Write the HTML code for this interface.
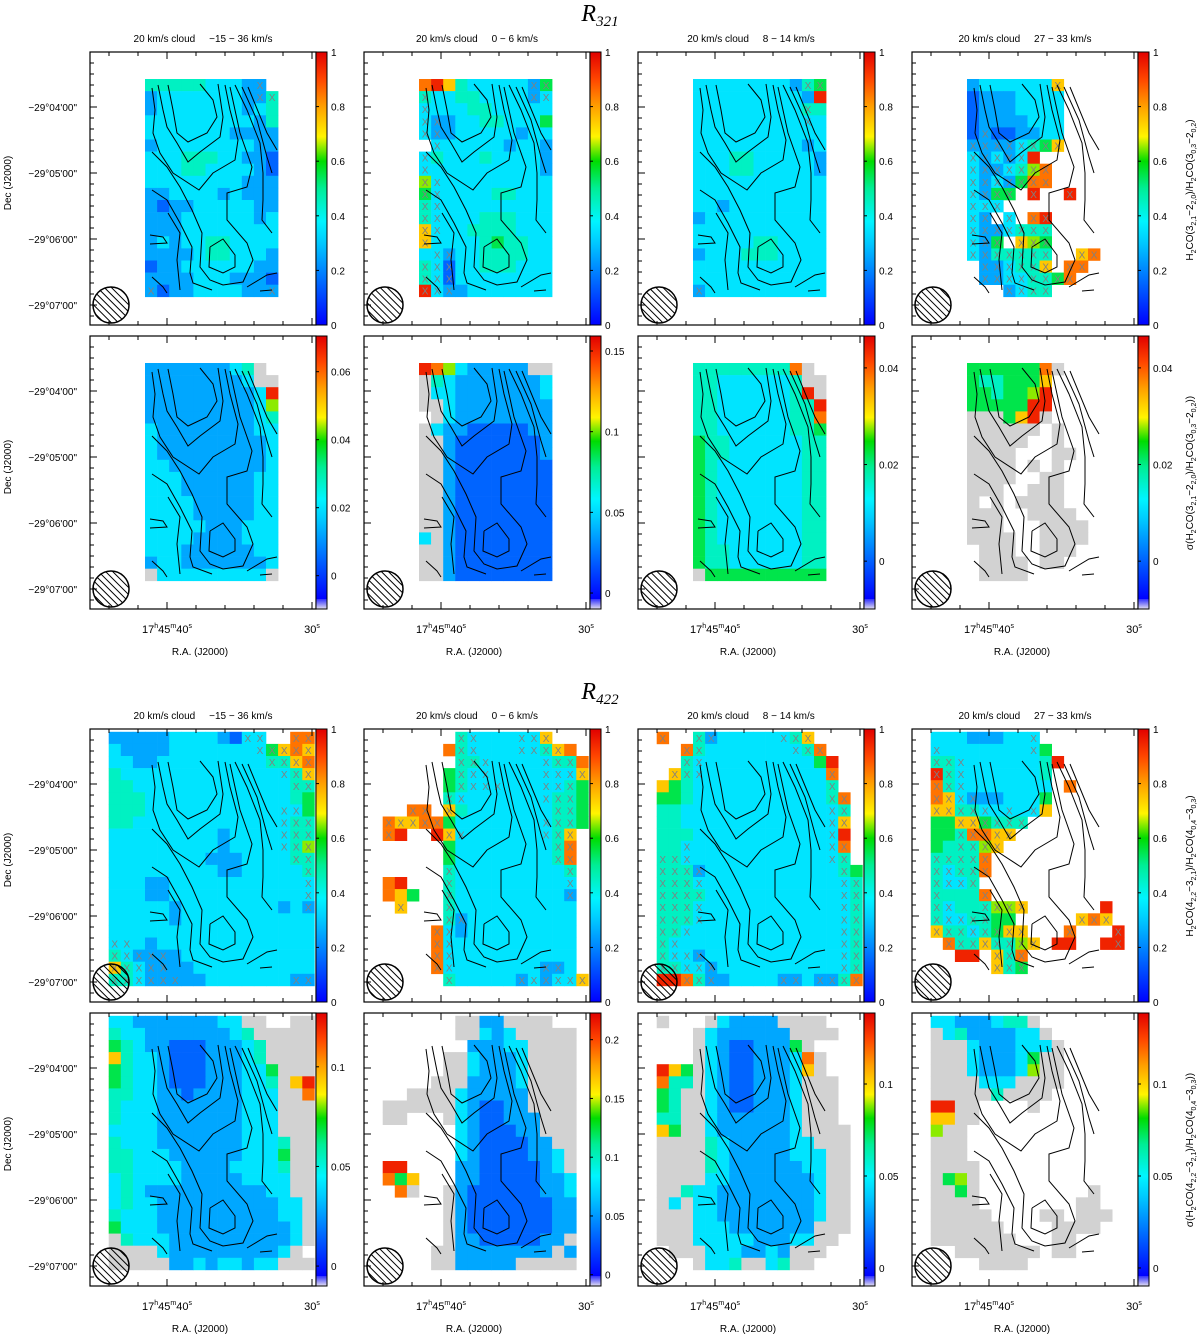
<!DOCTYPE html>
<html><head><meta charset="utf-8"><title>R321 / R422 maps</title>
<style>html,body{margin:0;padding:0;background:#fff;}svg{display:block;font-family:"Liberation Sans",sans-serif;}</style>
</head><body>
<svg id="fig" width="1200" height="1334" viewBox="0 0 1200 1334" xmlns="http://www.w3.org/2000/svg">
<defs>
<pattern id="hatch" patternUnits="userSpaceOnUse" width="5" height="5" patternTransform="rotate(-45)"><line x1="0" y1="0" x2="0" y2="5" stroke="#000" stroke-width="2"/></pattern>
</defs>
<text x="600" y="21" text-anchor="middle" font-family="Liberation Serif,serif" font-style="italic" font-size="24">R<tspan font-size="15" dy="5">321</tspan></text>
<text x="600" y="699" text-anchor="middle" font-family="Liberation Serif,serif" font-style="italic" font-size="24">R<tspan font-size="15" dy="5">422</tspan></text>
<g id="panels"></g>
<g font-size="10">
<text transform="translate(1193,190) rotate(-90)" text-anchor="middle">H<tspan font-size="7" dy="3">2</tspan><tspan dy="-3">CO(3</tspan><tspan font-size="7" dy="3">2,1</tspan><tspan dy="-3">−2</tspan><tspan font-size="7" dy="3">2,0</tspan><tspan dy="-3">)/H</tspan><tspan font-size="7" dy="3">2</tspan><tspan dy="-3">CO(3</tspan><tspan font-size="7" dy="3">0,3</tspan><tspan dy="-3">−2</tspan><tspan font-size="7" dy="3">0,2</tspan><tspan dy="-3">)</tspan></text>
<text transform="translate(1193,473) rotate(-90)" text-anchor="middle">σ(H<tspan font-size="7" dy="3">2</tspan><tspan dy="-3">CO(3</tspan><tspan font-size="7" dy="3">2,1</tspan><tspan dy="-3">−2</tspan><tspan font-size="7" dy="3">2,0</tspan><tspan dy="-3">)/H</tspan><tspan font-size="7" dy="3">2</tspan><tspan dy="-3">CO(3</tspan><tspan font-size="7" dy="3">0,3</tspan><tspan dy="-3">−2</tspan><tspan font-size="7" dy="3">0,2</tspan><tspan dy="-3">))</tspan></text>
<text transform="translate(1193,866) rotate(-90)" text-anchor="middle">H<tspan font-size="7" dy="3">2</tspan><tspan dy="-3">CO(4</tspan><tspan font-size="7" dy="3">2,2</tspan><tspan dy="-3">−3</tspan><tspan font-size="7" dy="3">2,1</tspan><tspan dy="-3">)/H</tspan><tspan font-size="7" dy="3">2</tspan><tspan dy="-3">CO(4</tspan><tspan font-size="7" dy="3">0,4</tspan><tspan dy="-3">−3</tspan><tspan font-size="7" dy="3">0,3</tspan><tspan dy="-3">)</tspan></text>
<text transform="translate(1193,1150) rotate(-90)" text-anchor="middle">σ(H<tspan font-size="7" dy="3">2</tspan><tspan dy="-3">CO(4</tspan><tspan font-size="7" dy="3">2,2</tspan><tspan dy="-3">−3</tspan><tspan font-size="7" dy="3">2,1</tspan><tspan dy="-3">)/H</tspan><tspan font-size="7" dy="3">2</tspan><tspan dy="-3">CO(4</tspan><tspan font-size="7" dy="3">0,4</tspan><tspan dy="-3">−3</tspan><tspan font-size="7" dy="3">0,3</tspan><tspan dy="-3">))</tspan></text>
</g>
</svg>
<script>
const NS="http://www.w3.org/2000/svg";
// ---- data ----
const panelX=[90,364,638,912];
const panelY=[52,336,729,1013];
const velocities=["−15 − 36 km/s","0 − 6 km/s","8 − 14 km/s","27 − 33 km/s"];
const decTickLabels=["−29°04'00\"","−29°05'00\"","−29°06'00\"","−29°07'00\""];
const decTickMinutes=[4,5,6,7];
const raTickSeconds=[40,30];
const cbRangeRatio=[0,1];
const cbTicksRatio=[0,0.2,0.4,0.6,0.8,1];
const cbRangeSig321=[[-0.0098,0.0705],[-0.0099,0.1593],[-0.0099,0.0466],[-0.0099,0.0466]];
const cbTicksSig321=[[0,0.02,0.04,0.06],[0,0.05,0.1,0.15],[0,0.02,0.04],[0,0.02,0.04]];
const cbRangeSig422=[[-0.01,0.127],[-0.0096,0.2227],[-0.0098,0.1386],[-0.0098,0.1386]];
const cbTicksSig422=[[0,0.05,0.1],[0,0.05,0.1,0.15,0.2],[0,0.05,0.1],[0,0.05,0.1]];
// cell codes: digit = colour level (0 blue .. 9 red); a-j = same level with X flag; # = masked (grey); . = blank
const r321=[
["444443332c.","233333332ce","23333333234","33333333324","33333332222","23333333322","33344433221","33344333321","33333333222","22333323222","21223333322","22233333323","22233333333","23233443333","22223443332","12233333322","22223332221","c122333322c"],
["897433333cf","e33443333cd","d3334433333","dc233443335","dc233333233",".d333332332","d4333433332","d3333333332","gd333333333","fd333344333","ed333333333","ed333444333","hd334444333","h3333454433","3dc33444433","edb33444333","edb33333333","jdc23333333"],
["333333332ef","33333333329","333333333e4","333333333d3","33333333333","33333333323","33344333332","33344333332","33333333333","33333333333","33233333333","23333333333","33333333333","33333443333","23334443333","33333333333","33333333333","c3333333333"],
["2333333h...","12223333...","12223333...","12222333...","1c112233...","ccccdefh...","dcdcd9.....","dccdegi....","dcdcfii....","dcff.j..j..","ddd........","dc.d.ij....","dccdeee....","dcf.hgf....","dceeeee..hi",".ccdeeh.ii.",".ccddeefi..","...cdee...."]
];
const s321=[
["222222234#.","222222223##","22222222239","22222222236","22222222234","32222222233","32222222223","32222222223","33222222223","33322222233","33322222233","33332222233","33332222233","33333222333","33332222333","33322222233","23322222223","#333333333#"],
["986322222##","#4322222223","#3322222223","##322222222",".#322222222","#3221111122","##211111112","##211111112","##211111111","##211111111","##211111111","##211111111","##211111111","##211111111","3#211111111","##211111111","##211111111","##211111111"],
["444444448#.","443333334##","4433333349#","44333333449","44333333448","44333333445","54433333344","54433333344","54333333344","54333333344","54333333344","54333333344","54333333344","54333333344","54333333344","54433333344","54433333344","#5555555555"],
["5555558#...","5445557....","5545569....","5555599....","###579#....","######.#...","#####..#...","####...##..","####.#.#...","####..##...","###..###...","#.#.####...","###..####..","###...####.","####..####.",".###..###..",".####.##...",".####......"]
];
const r422=[
[".22222333321dd..ii",".322223333333dfhih",".3322333333333eehi",".43333333333333deh",".443333333333333ee",".44433333333333345",".44433333333333dd5",".44333333333333dee",".33333333323333dee",".33333333323333deg",".333333332223333ee",".3333333332233333e",".3332233333333333d",".3332233333333333d",".3333323333333323c",".33333233333333333",".33333333333333333",".dd323333333333333",".edccc233333333333",".hedcc223333333333",".eedccc223333333cc"],
[".......ed333ddh...","......8ed333ddeh8.",".......eed3333dee8","......5edd3333dddh","......5eddd333dde5","......ed333333dee5","...ii.h43333333ee5",".ihhii53333333dee5",".i9..9hd333333deh.","......533333333ei.","......533333333ei.","......e333333333e.",".89...e333333333d.",".875..e333333333c.","..h...e3333333333.","......ec333333333.",".....id2333333333.",".....id3333333333.",".....id3333333333.",".....id3333333cc3.","......e33333cdcddh"],
[".i..ec33333deh....","...ie3333333dei...","...ed33333333359..","..hed3333333333i..",".75433333333333e..",".55433333333333ei.",".44333333333333de.",".44333333333333dh.",".44433333333333d9.",".44d33333333333di.",".eed33333333333de.",".eeec33333333333e5",".eeed33333333333de",".eeee33333333333de",".eeed33333333333de",".eeed33333333333de",".eed333333333333de",".ed3333333333333de",".eddc33333333333de",".eeddc3333333333de",".99iec23333cc3ccei"],
[".33322233d........",".d3333333d5.......",".eed33333349......",".jed3333334.......",".ied3333333.8.....",".ihdc223335.......",".hheed3d3d7.......",".55hhfeee.........",".55eiihh..........",".54eegh...........",".eeeei............",".edeei............",".edde.............",".e444i............",".ed44eggh......9..",".eddee55.....hih..",".heedefhh...i...j.","..ieeheegh.99..9j.","...99.hei.........","......hef........."]
];
const s422=[
[".33222222233##..##",".433222222234#####",".5432211122234####",".7433211122234####",".54332111222335###",".54332111222334#79",".44332212222333##8",".43332222222333###",".43332222222333###",".33332222222333###",".433322222223334##",".443332222223335##",".443333222233334##",".343333222223333##",".343222222222233##",".3433222222222233#",".4333222222222233#",".5333222222222223#",".#433322222222223#",".####32222222223#",".#####223233233###"],
[".......##22####...",".......##323#####.","........22233####.","......##32223####.","......##32223####.",".....###22223####.","...####322222####.",".######321122####.",".##...#3211222###.",".......3211122###.",".......32111122##.",".......321111223#.",".99....221111123#.",".857...2211111223.","..8#..#2111111223.","......#2111111122.","......#2111111122.","......#2111111122.","......#221111122#.",".....##22222222#2.",".....##22222#####."],
[".#...#32222####...","....#3222222####..","....#32112225#....","....#321122238#...",".975#321122237#...",".844#32112223###..",".54##32112223###..",".54##32112223###..",".44##32222223###..",".75##32222223####.",".####432222233###.",".####4322222333##.",".####4322222233##.",".####3322222223##.",".##433222222223##.",".#3#33222222223##.",".###33222222223##.",".###3332222222###.",".###3333322233##..","..###3332232###...","....#334##34##...."],
[".33222344#........",".#34222233#.......",".###3222333#......",".###322235##......",".###322236##......",".####333####......",".#####4####.......",".99##....#........",".77##.............",".6##..............",".###..............",".###..............",".####.............",".#56#.............",".##5#.........#...",".####........##...",".#####....##.###..",".######....####...",".#######...##.....","...#######.##.....",".....####........."]
];
// contour lines (panel-relative units, same in every panel)
const contourLines=[
[110,32,123,48,127,65,117,81,98,90,87,81,83,58,78,33],
[68,33,73,58,77,75,87,91,98,110,110,100,130,85,133,65,128,32],
[62,36,65,58,63,81,70,101,83,121,109,138,123,121,145,108,148,88,140,58,135,33],
[62,100,77,115,90,135,102,158,112,181,110,215,120,228,133,233,153,230,163,208,157,191,137,168,137,141,157,135,162,115,150,81,140,35],
[120,195,133,187,145,203,145,215,133,221,119,215,120,195],
[62,138,77,148,90,171,102,195,100,221,103,231,122,238],
[62,225,73,235,77,241],
[78,161,90,181,87,208,90,238],
[145,33,157,58,170,91,173,121,173,148,172,168,182,181],
[152,35,167,68,177,105,182,121],
[158,35,177,81,187,98],
[60,183,73,185,77,191,60,192],
[157,235,177,223,187,221],
[170,239,182,238]
];
// ---- scales & helpers ----
const W=226,H=273,CELL=12.1,GX0=6.6,GY0=2.8;
const colX=(fx,c)=>fx+GX0+CELL*c;
const rowY=(fy,r)=>fy+GY0+CELL*r;
const decY=(fy,m)=>fy+55+66*(m-4);
const raX=(fx,s)=>fx+77+(40-s)*14.5;
const stops=[[0,[0,0,255]],[0.15,[0,100,255]],[0.3,[0,200,255]],[0.38,[0,245,255]],[0.5,[0,238,150]],[0.6,[0,220,0]],[0.65,[140,235,0]],[0.69,[255,245,0]],[0.8,[255,160,0]],[0.9,[255,70,0]],[1,[225,0,0]]];
function jet(f){f=Math.max(0,Math.min(1,f));for(let i=1;i<stops.length;i++){if(f<=stops[i][0]){const a=stops[i-1],b=stops[i],t=(f-a[0])/(b[0]-a[0]);return "rgb("+a[1].map((v,k)=>Math.round(v+(b[1][k]-v)*t)).join(",")+")";}}return "rgb(225,0,0)";}
function el(tag,attrs,parent){const e=document.createElementNS(NS,tag);for(const k in attrs)e.setAttribute(k,attrs[k]);if(parent)parent.appendChild(e);return e;}
const root=document.getElementById("panels");
// gradient
const defs=document.querySelector("defs");
const lg=el("linearGradient",{id:"jetgrad",x1:"0",y1:"1",x2:"0",y2:"0"},defs);
stops.forEach(s=>el("stop",{offset:s[0],"stop-color":jet(s[0])},lg));
const pg=el("linearGradient",{id:"palegrad",x1:"0",y1:"1",x2:"0",y2:"0"},defs);
el("stop",{offset:"0","stop-color":"#e4e0f0"},pg);el("stop",{offset:"1","stop-color":"#3030ff"},pg);

function decodeRows(rows,offC,offR){const g=[];for(let r=0;r<22;r++){g.push([]);for(let c=0;c<18;c++)g[r].push(".");}
 rows.forEach((s,i)=>{for(let j=0;j<s.length;j++){const r=i+offR,c=j+offC;if(r<22&&c<18)g[r][c]=s[j];}});return g;}

function drawPanel(pi,pj,rows,offC,offR,cbRange,cbTicks,pale,isRatio){
 const fx=panelX[pj],fy=panelY[pi];
 const g=el("g",{},root);
 
 
 const grid=decodeRows(rows,offC,offR);
 const cells=el("g",{},g);
 
 
 for(let r=0;r<22;r++)for(let c=0;c<18;c++){
  const ch=grid[r][c];if(ch===".")continue;
  let fill,x=false;
  if(ch==="#")fill="#d2d2d2";
  else{let d;if(ch>="0"&&ch<="9")d=+ch;else{d=ch.charCodeAt(0)-97;x=true;}fill=jet((d+0.5)/10);}
  const rc=el("rect",{x:colX(fx,c).toFixed(2),y:rowY(fy,r).toFixed(2),width:12.4,height:12.4,fill:fill},cells);
  
  
  if(x){const t=el("text",{x:(colX(fx,c)+6.05).toFixed(2),y:(rowY(fy,r)+10).toFixed(2),"text-anchor":"middle","font-size":"10",fill:"#808080"},cells);t.textContent="X";
   
   }
 }
 // contours
 const cg=el("g",{fill:"none",stroke:"#000","stroke-width":"1"},g);
 
 
 contourLines.forEach(L=>{let pts=[];for(let k=0;k<L.length;k+=2)pts.push((fx+L[k])+","+(fy+L[k+1]));
  const pl=el("polyline",{points:pts.join(" ")},cg);
  
  });
 // beam
 const bc=el("circle",{cx:fx+21,cy:fy+253,r:18,fill:"url(#hatch)",stroke:"#000","stroke-width":"1.5"},g);
 
 
 // frame
 const fr=el("rect",{x:fx,y:fy,width:W,height:H,fill:"none",stroke:"#000","stroke-width":"1.2"},g);
 
 
 const tk=el("g",{stroke:"#000","stroke-width":"1"},g);
 
 
 for(let k=0;k<8;k++){const x=fx+19+29*k;const L=(k==2||k==7)?7:4;el("line",{x1:x,y1:fy,x2:x,y2:fy+L},tk);el("line",{x1:x,y1:fy+H,x2:x,y2:fy+H-L},tk);}
 for(let y=fy+55-66;y<fy+H;y+=11){if(y<fy+1)continue;const maj=Math.abs((y-fy-55)%66)<0.5;el("line",{x1:fx,y1:y,x2:fx+(maj?7:4),y2:y},tk);}
 // colorbar
 const cb=el("g",{},g);
 
 
 const bx=fx+W,bw=11;
 if(pale){el("rect",{x:bx,y:fy,width:bw,height:H-10,fill:"url(#jetgrad)"},cb);el("rect",{x:bx,y:fy+H-10,width:bw,height:10,fill:"url(#palegrad)"},cb);}
 else el("rect",{x:bx,y:fy,width:bw,height:H,fill:"url(#jetgrad)"},cb);
 el("rect",{x:bx,y:fy,width:bw,height:H,fill:"none",stroke:"#000","stroke-width":"1"},cb);
 const cy=v=>fy+H-(v-cbRange[0])/(cbRange[1]-cbRange[0])*H;
 cbTicks.forEach(v=>{const y=cy(v);el("line",{x1:bx,y1:y,x2:bx+3,y2:y,stroke:"#000"},cb);
  const t=el("text",{x:bx+15,y:y+4,"font-size":"10"},cb);t.textContent=(isRatio&&v===1)?"1":String(v);
  
  });
 // left labels
 if(pj===0){decTickMinutes.forEach((m,i)=>{const t=el("text",{x:fx-13,y:decY(fy,m)+4,"text-anchor":"end","font-size":"10"},g);t.textContent=decTickLabels[i];
   
   });
  const d=el("text",{transform:"translate(11,"+(fy+131)+") rotate(-90)","text-anchor":"middle","font-size":"10"},g);d.textContent="Dec (J2000)";
  
  }
 if(pi===0||pi===2){const t=el("text",{x:fx+113,y:fy-10,"text-anchor":"middle","font-size":"10","xml:space":"preserve"},g);
  t.setAttribute("style","white-space:pre");t.textContent="20 km/s cloud     "+velocities[pj];
  
  }
 if(pi===1||pi===3){
  const t1=el("text",{x:raX(fx,raTickSeconds[0]),y:fy+H+24,"text-anchor":"middle","font-size":"11"},g);
  t1.innerHTML='17<tspan font-size="7" dy="-5">h</tspan><tspan dy="5">45</tspan><tspan font-size="7" dy="-5">m</tspan><tspan dy="5">40</tspan><tspan font-size="7" dy="-5">s</tspan>';
  
  
  const t2=el("text",{x:raX(fx,raTickSeconds[1]),y:fy+H+24,"text-anchor":"middle","font-size":"11"},g);
  t2.innerHTML='30<tspan font-size="7" dy="-5">s</tspan>';
  
  
  const t3=el("text",{x:fx+110,y:fy+H+46,"text-anchor":"middle","font-size":"10"},g);t3.textContent="R.A. (J2000)";
  
  }
}
for(let j=0;j<4;j++){
 drawPanel(0,j,r321[j],4,2,cbRangeRatio,cbTicksRatio,false,true);
 drawPanel(1,j,s321[j],4,2,cbRangeSig321[j],cbTicksSig321[j],true,false);
 drawPanel(2,j,r422[j],0,0,cbRangeRatio,cbTicksRatio,false,true);
 drawPanel(3,j,s422[j],0,0,cbRangeSig422[j],cbTicksSig422[j],true,false);
}
</script>
</body></html>
